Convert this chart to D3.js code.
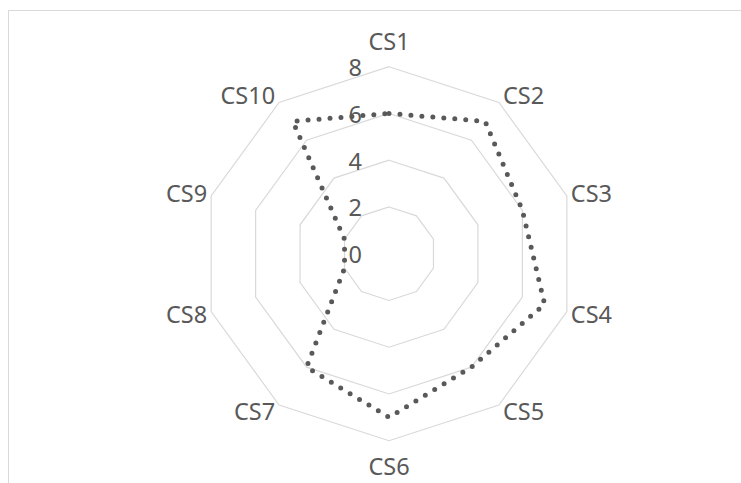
<!DOCTYPE html>
<html>
<head>
<meta charset="utf-8">
<script src="https://cdn.jsdelivr.net/npm/d3@7"></script>
<style>
  html, body { margin: 0; padding: 0; background: #fff; }
  svg { display: block; }
</style>
</head>
<body>
<svg id="chart" width="741" height="483"></svg>
<script>
// Scores per category
const categories = ["CS1", "CS2", "CS3", "CS4", "CS5", "CS6", "CS7", "CS8", "CS9", "CS10"];
const values = [6, 7, 6, 7, 6, 7, 6, 2, 2, 7];
const ticks = [0, 2, 4, 6, 8];

const W = 741, H = 483;
const cx = 389, cy = 253.7, R = 187;
const fontSize = 23.5;
const capMid = 0.357 * fontSize; // half of cap height, used to centre glyphs
const textColor = "#595959";

const svg = d3.select("#chart");

// chart area border (only top and left edges are visible in the window)
svg.append("rect")
  .attr("x", 8.5).attr("y", 10.5)
  .attr("width", 900).attr("height", 700)
  .attr("fill", "#fff")
  .attr("stroke", "#d9d9d9").attr("stroke-width", 1);

const r = d3.scaleLinear().domain([0, 8]).range([0, R]);
const angle = d3.scaleLinear().domain([0, categories.length]).range([0, 2 * Math.PI]);

const pt = (i, v) => {
  const a = angle(i);
  return [cx + r(v) * Math.sin(a), cy - r(v) * Math.cos(a)];
};

// grid rings
const g = svg.append("g");
ticks.filter(t => t > 0).forEach(t => {
  g.append("path")
    .attr("d", d3.line()(categories.map((_, i) => pt(i, t))) + "Z")
    .attr("fill", "none")
    .attr("stroke", "#d9d9d9")
    .attr("stroke-width", 1.2);
});

// radial tick labels
g.selectAll("text.tick")
  .data(ticks)
  .join("text")
  .attr("class", "tick")
  .attr("x", cx - 27)
  .attr("y", d => cy - r(d) + 1 + capMid)
  .attr("text-anchor", "end")
  .attr("font-family", "Noto Sans")
  .attr("font-size", fontSize)
  .attr("fill", textColor)
  .text(d => d);

// data series (dotted line)
const line = d3.line().curve(d3.curveLinearClosed);
svg.append("path")
  .attr("d", line(values.map((v, i) => pt(i, v))))
  .attr("fill", "none")
  .attr("stroke", "#595959")
  .attr("stroke-width", 5)
  .attr("stroke-linecap", "round")
  .attr("stroke-dasharray", "0 11");

// category labels around the outer ring
categories.forEach((c, i) => {
  const a = angle(i);
  const s = Math.sin(a), co = Math.cos(a);
  const [vx, vy] = pt(i, 8);
  let x, y, anchor;
  if (Math.abs(s) < 0.01) {
    x = vx; anchor = "middle";
    y = vy - Math.sign(co) * 25.5;
  } else {
    anchor = s > 0 ? "start" : "end";
    x = vx + Math.sign(s) * 4;
    y = vy - co * 8.5;
  }
  svg.append("text")
    .attr("x", x)
    .attr("y", y + capMid)
    .attr("text-anchor", anchor)
    .attr("font-family", "Noto Sans")
    .attr("font-size", fontSize)
    .attr("fill", textColor)
    .text(c);
});
</script>
</body>
</html>
